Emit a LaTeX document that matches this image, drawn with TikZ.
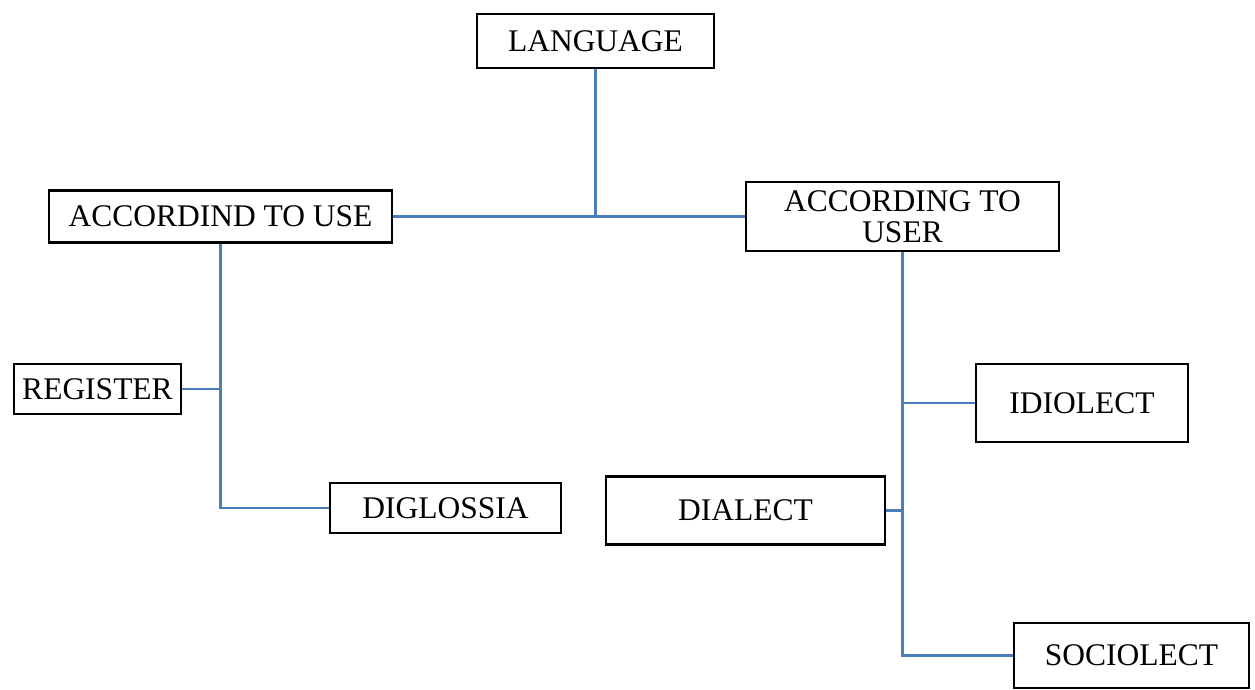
\documentclass[tikz,border=0pt]{standalone}
\usepackage{fontspec}
\setmainfont{Liberation Serif}
\begin{document}
\begin{tikzpicture}[x=1pt,y=-1pt,
  box/.style={draw=black,line width=2.4pt,rectangle,inner sep=0pt,align=center,
    font=\fontsize{31.5}{31.5}\selectfont},
  link/.style={draw={rgb,255:red,74;green,126;blue,187},line width=2.4pt}]
\useasboundingbox[fill=white] (0,0) rectangle (1255,690);
\node[box,minimum width=237pt,minimum height=54pt] (lang) at (595.5,41) {LANGUAGE};
\node[box,minimum width=343pt,minimum height=52pt] (use) at (220.5,216.5) {ACCORDIND TO USE};
\node[box,minimum width=313pt,minimum height=69pt] (user) at (902.5,216.5) {ACCORDING TO\\USER};
\node[box,minimum width=167pt,minimum height=50pt] (reg) at (97.5,389) {REGISTER};
\node[box,minimum width=231pt,minimum height=50pt] (dig) at (445.5,508) {DIGLOSSIA};
\node[box,minimum width=212pt,minimum height=78pt] (idio) at (1082,403) {IDIOLECT};
\node[box,minimum width=279pt,minimum height=68pt] (dial) at (745.5,510.5) {DIALECT};
\node[box,minimum width=235pt,minimum height=65pt] (soc) at (1131.5,655.5) {SOCIOLECT};
\draw[link] (use.east) -- (user.west);
\draw[link] (lang.south) -- (lang.south |- use.east);
\draw[link] (use.south) |- (dig.west);
\draw[link] (reg.east) -- (reg.east -| use.south);
\draw[link] (user.south) |- (soc.west);
\draw[link] (idio.west) -- (idio.west -| user.south);
\draw[link] (dial.east) -- (dial.east -| user.south);
\end{tikzpicture}
\end{document}
